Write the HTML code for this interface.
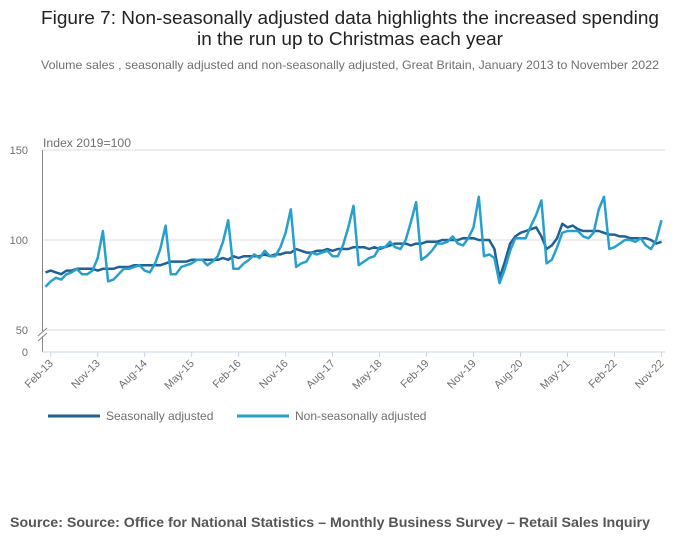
<!DOCTYPE html>
<html><head><meta charset="utf-8"><style>
body{margin:0;background:#fff;}
svg{display:block;font-family:"Liberation Sans",sans-serif;}
</style></head><body>
<svg id="chart" width="700" height="549" viewBox="0 0 700 549">
<text x="350" y="24" text-anchor="middle" font-size="18" fill="#222" textLength="618" lengthAdjust="spacingAndGlyphs">Figure 7: Non-seasonally adjusted data highlights the increased spending</text>
<text x="350" y="45" text-anchor="middle" font-size="18" fill="#222" textLength="306" lengthAdjust="spacingAndGlyphs">in the run up to Christmas each year</text>
<text x="350" y="69" text-anchor="middle" font-size="12" fill="#707070" textLength="618" lengthAdjust="spacingAndGlyphs">Volume sales , seasonally adjusted and non-seasonally adjusted, Great Britain, January 2013 to November 2022</text>
<text x="43" y="147" font-size="11.5" fill="#707070" textLength="88" lengthAdjust="spacingAndGlyphs">Index 2019=100</text>
<g id="grid"></g>
<g id="axes"></g>
<g id="series"></g>
<g>
<line x1="48" y1="416" x2="100" y2="416" stroke="#206095" stroke-width="3"/>
<text x="106" y="420" font-size="12" fill="#707070">Seasonally adjusted</text>
<line x1="237" y1="416" x2="289" y2="416" stroke="#27a0cc" stroke-width="3"/>
<text x="295" y="420" font-size="12" fill="#707070">Non-seasonally adjusted</text>
</g>
<text x="10" y="527" font-size="14" font-weight="bold" fill="#555" textLength="640" lengthAdjust="spacingAndGlyphs">Source: Source: Office for National Statistics – Monthly Business Survey – Retail Sales Inquiry</text>
</svg>
<script>
const tickLabels=["Feb-13","Nov-13","Aug-14","May-15","Feb-16","Nov-16","Aug-17","May-18","Feb-19","Nov-19","Aug-20","May-21","Feb-22","Nov-22"];
const tickMonthIdx=[1,10,19,28,37,46,55,64,73,82,91,100,109,118];
const yTicks=[50,100,150];
const seasonallyAdjusted=[
82,83,82,81,83,83,84,84,84,84,83,84,
84,84,85,85,85,86,86,86,86,86,86,87,
88,88,88,88,89,89,89,89,89,89,90,89,
91,90,91,91,91,91,92,91,92,92,93,93,
95,94,93,93,94,94,95,94,95,95,95,96,
96,96,95,96,95,96,97,98,98,98,97,98,
98,99,99,99,100,100,100,100,101,101,101,100,
100,100,95,79,88,98,102,104,105,106,107,102,
95,97,101,109,107,108,106,105,105,105,105,104,
103,103,102,102,101,101,101,101,100,98,99];
const nonSeasonallyAdjusted=[
74,77,79,78,81,82,84,81,81,83,90,105,
77,78,81,84,84,85,86,83,82,87,95,108,
81,81,85,86,87,89,89,86,88,91,99,111,
84,84,87,89,92,90,94,91,91,96,104,117,
85,87,88,93,92,93,94,91,91,97,107,119,
86,88,90,91,96,96,99,96,95,100,110,121,
89,91,94,98,98,99,102,98,97,101,107,124,
91,92,90,76,84,94,101,101,101,108,114,122,
87,89,96,104,105,105,105,102,101,104,117,124,
95,96,98,100,100,99,101,97,95,100,111];
const NS="http://www.w3.org/2000/svg";
const x=i=>45.5+i*5.22;
const y=v=>240-(v-100)*1.8;
function mk(tag,attrs,parent){const e=document.createElementNS(NS,tag);for(const k in attrs)e.setAttribute(k,attrs[k]);document.getElementById(parent).appendChild(e);return e;}
yTicks.forEach(t=>{
 const l=mk('line',{x1:42,x2:665,y1:y(t),y2:y(t),stroke:'#dedede','stroke-width':1},'grid');
 
 
 const tx=mk('text',{x:28,y:y(t)+4,'text-anchor':'end','font-size':11,fill:'#707070'},'grid');
 tx.textContent=t;
 
 
});
const z=mk('text',{x:28,y:356,'text-anchor':'end','font-size':11,fill:'#707070'},'grid');
z.textContent='0';


const ya=mk('path',{d:'M42.5 150 V331 M38 336 L47 328 M38 341 L47 333 M42.5 336 V352',stroke:'#888',fill:'none','stroke-width':1},'axes');


const xa=mk('line',{x1:42,x2:665,y1:352,y2:352,stroke:'#c8d4e6','stroke-width':1},'axes');


tickLabels.forEach((lab,k)=>{
 const px=x(tickMonthIdx[k]);
 const tk=mk('line',{x1:px,x2:px,y1:352,y2:357,stroke:'#c8d4e6'},'axes');
 
 
 const t=mk('text',{x:px+3,y:364,'text-anchor':'end','font-size':11,fill:'#707070',transform:`rotate(-45 ${px+3} 364)`},'axes');
 t.textContent=lab;
 
 
});
function line(data,color,name){
 const d=data.map((v,i)=>(i?'L':'M')+x(i).toFixed(1)+' '+y(v).toFixed(1)).join(' ');
 const p=mk('path',{d:d,stroke:color,'stroke-width':2.5,fill:'none','stroke-linejoin':'round'},'series');
 
 
}
line(seasonallyAdjusted,'#206095','line-seasonally-adjusted');
line(nonSeasonallyAdjusted,'#27a0cc','line-non-seasonally-adjusted');
</script>
</body></html>
